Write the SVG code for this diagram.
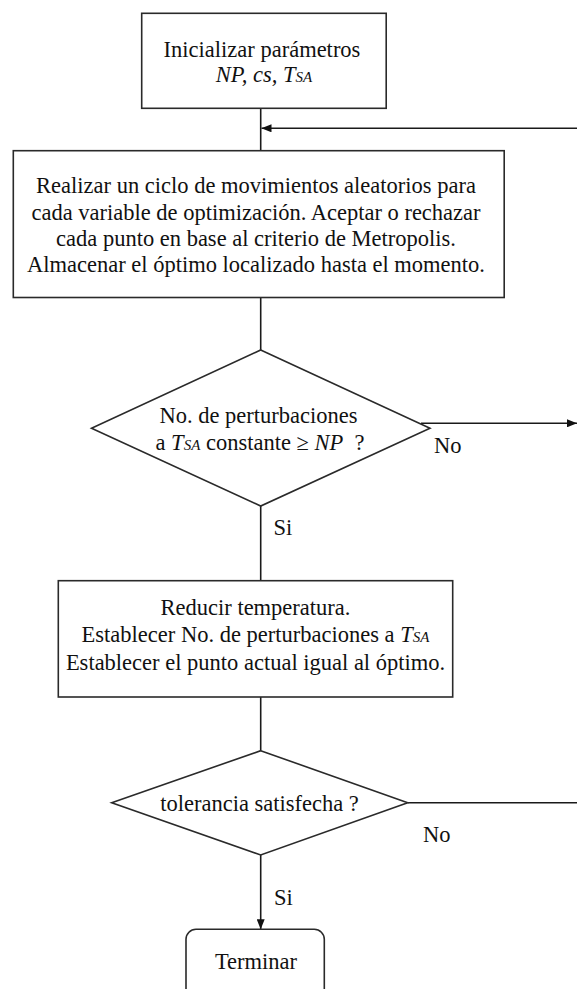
<svg xmlns="http://www.w3.org/2000/svg" width="577" height="989" viewBox="0 0 577 989">
<defs>
<style>
.box{fill:#fff;stroke:#2a2a2a;stroke-width:1.6}
.ln{fill:none;stroke:#1a1a1a;stroke-width:1.6}
text{font-family:'Liberation Serif','Times New Roman',Times,serif;font-size:22.5px;fill:#111}
.t{text-anchor:middle}
.i{font-style:italic}
.s{font-size:15px;font-style:italic}
</style>
<marker id="ah" viewBox="0 0 10 8" refX="10" refY="4" markerWidth="10" markerHeight="8" markerUnits="userSpaceOnUse" orient="auto">
<path d="M0,0 L10,4 L0,8 Z" fill="#111"/>
</marker>
</defs>
<rect width="577" height="989" fill="#fff"/>
<g font-family="Liberation Serif, Times New Roman, serif" font-size="22.5">
<g id="connectors">
<line class="ln" x1="260.7" y1="108.3" x2="260.7" y2="150.7"/>
<line class="ln" x1="577" y1="128.3" x2="261.5" y2="128.3" marker-end="url(#ah)"/>
<line class="ln" x1="260.7" y1="297.5" x2="260.7" y2="350"/>
<line class="ln" x1="421" y1="423.3" x2="577" y2="423.3" marker-end="url(#ah)"/>
<line class="ln" x1="260.7" y1="506" x2="260.7" y2="581"/>
<line class="ln" x1="260.7" y1="697" x2="260.7" y2="750.7"/>
<line class="ln" x1="407.7" y1="802.7" x2="577" y2="802.7"/>
<line class="ln" x1="260.7" y1="855" x2="260.7" y2="929.3" marker-end="url(#ah)"/>
<text x="434" y="453.3">No</text>
<text x="273.5" y="535">Si</text>
<text x="423" y="841.7">No</text>
<text x="274" y="905">Si</text>
</g>
<g id="n1">
<rect class="box" x="141.7" y="13.3" width="244.5" height="95"/>
<text class="t" x="262" y="56.7">Inicializar parámetros</text>
<text class="t i" x="264" y="81.7">NP, cs, T<tspan class="s">SA</tspan></text>
</g>
<g id="n2">
<rect class="box" x="13.3" y="150.7" width="490.9" height="146.8"/>
<text class="t" x="256" y="193">Realizar un ciclo de movimientos aleatorios para</text>
<text class="t" x="256" y="219.5">cada variable de optimización. Aceptar o rechazar</text>
<text class="t" x="256" y="245.5">cada punto en base al criterio de Metropolis.</text>
<text class="t" x="256" y="272">Almacenar el óptimo localizado hasta el momento.</text>
</g>
<g id="n3">
<polygon class="box" points="260.7,350 430,428.3 260.7,506 91.5,428.3"/>
<text class="t" x="258.5" y="423.3">No. de perturbaciones</text>
<text class="t" x="260" y="450" xml:space="preserve">a <tspan class="i">T</tspan><tspan class="s">SA</tspan> constante ≥ <tspan class="i">NP</tspan>  ?</text>
</g>
<g id="n4">
<rect class="box" x="58.3" y="580.7" width="394.4" height="116.3"/>
<text class="t" x="255.5" y="615">Reducir temperatura.</text>
<text class="t" x="255.5" y="642.3">Establecer No. de perturbaciones a <tspan class="i">T</tspan><tspan class="s">SA</tspan></text>
<text class="t" x="255.5" y="670">Establecer el punto actual igual al óptimo.</text>
</g>
<g id="n5">
<polygon class="box" points="260.7,750.7 407.7,802.7 260.7,855 111.7,802.7"/>
<text class="t" x="259.5" y="811">tolerancia satisfecha ?</text>
</g>
<g id="n6">
<rect class="box" x="186" y="929.3" width="138.3" height="70" rx="10" ry="10"/>
<text class="t" x="256" y="969.3">Terminar</text>
</g>
</g>
</svg>
